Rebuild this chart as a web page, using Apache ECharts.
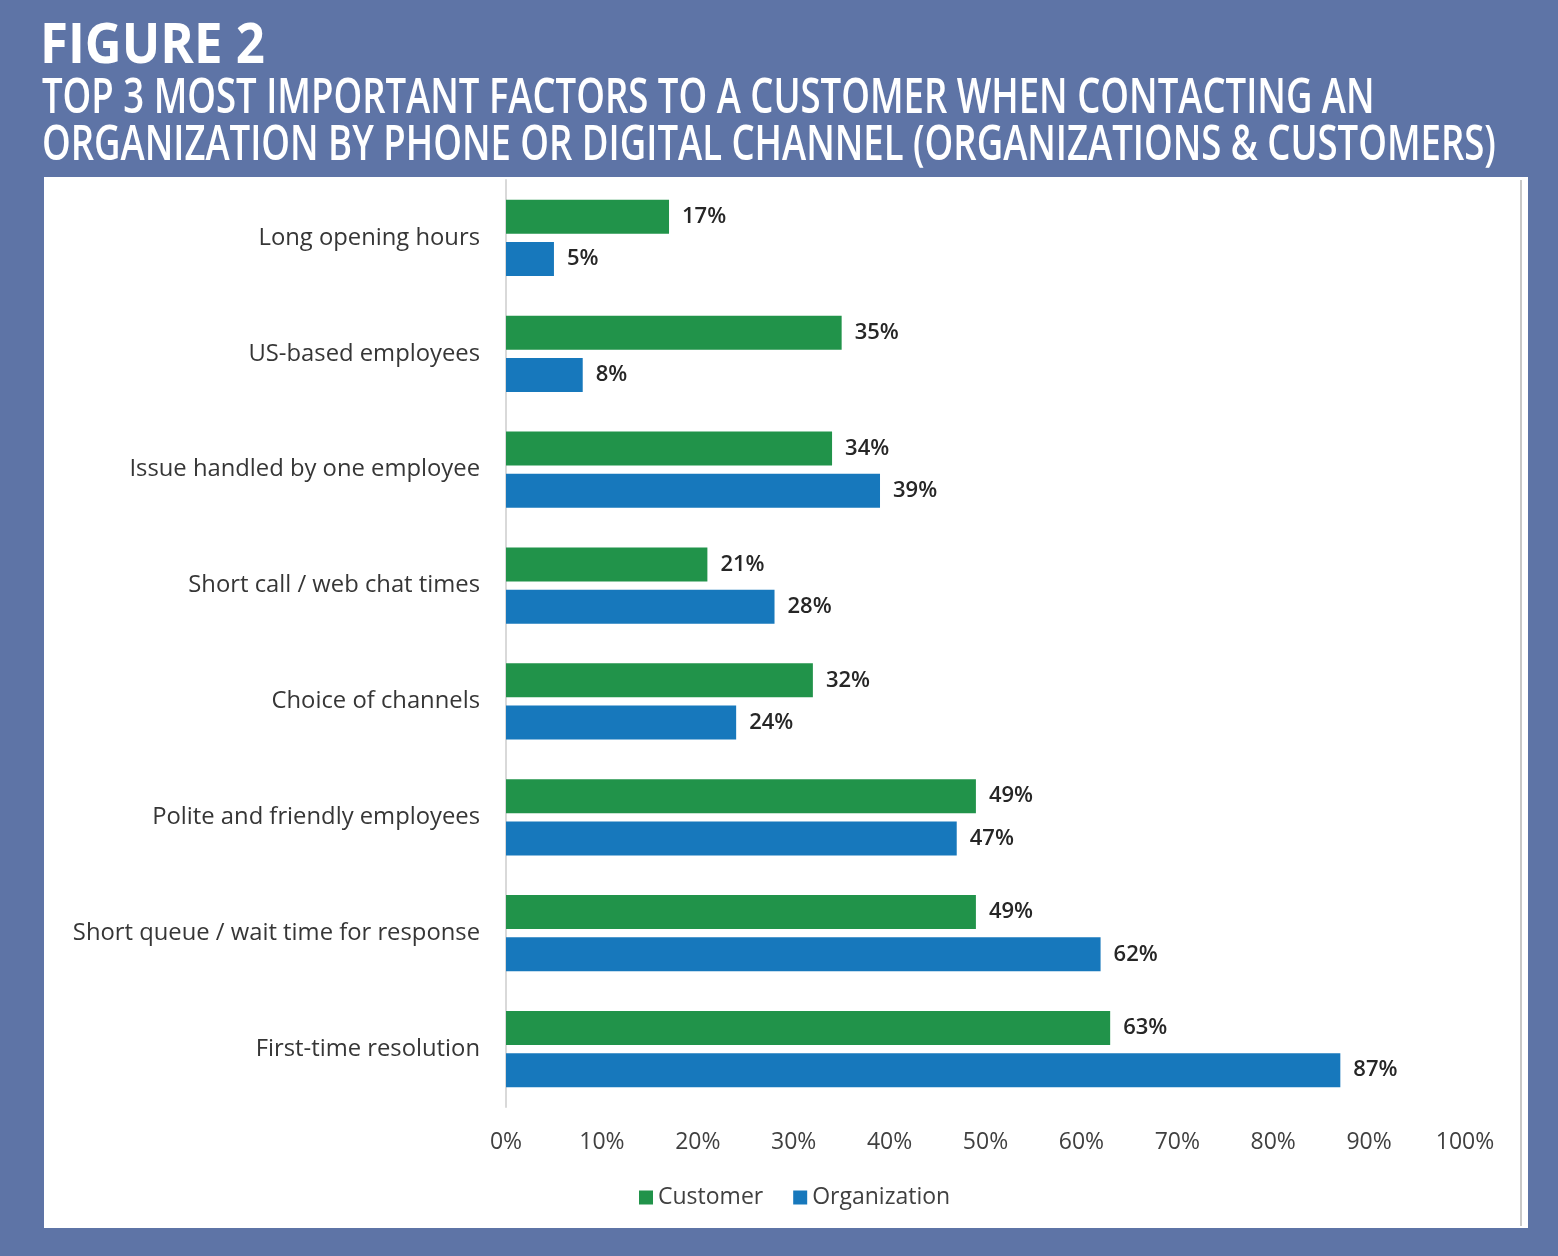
<!DOCTYPE html>
<html lang="en">
<head>
<meta charset="UTF-8">
<title>Figure 2</title>
<style>
  html, body { margin: 0; padding: 0; background: #5e74a6; }
  #chart-box { width: 1558px; height: 1256px; }
</style>
</head>
<body>
<div id="chart-box"></div>
<script src="https://cdn.jsdelivr.net/npm/echarts@6/dist/echarts.min.js"></script>
<script>
var categories = [
    'Long opening hours',
    'US-based employees',
    'Issue handled by one employee',
    'Short call / web chat times',
    'Choice of channels',
    'Polite and friendly employees',
    'Short queue / wait time for response',
    'First-time resolution'
];
var customer = [17, 35, 34, 21, 32, 49, 49, 63];
var organization = [5, 8, 39, 28, 24, 47, 62, 87];
var seriesNames = ['Customer', 'Organization'];

var labelFont = 'Open Sans';
var titleFont = 'Open Sans';

var option = {
    backgroundColor: '#5e74a6',
    animation: false,
    graphic: [
        // white panel behind the chart
        { type: 'rect', left: 44, top: 177, shape: { width: 1484, height: 1051 },
          style: { fill: '#ffffff' }, z: -10 },
        { type: 'rect', left: 1520, top: 180, shape: { width: 2, height: 1046 },
          style: { fill: '#c8c8c8' }, z: -9 },
        { type: 'text', x: 40, y: 47, scaleX: 0.91,
          style: { text: 'FIGURE 2', fill: '#ffffff', font: 'bold 56px ' + titleFont, verticalAlign: 'middle' } },
        { type: 'text', x: 42, y: 99, scaleX: 0.745,
          style: { text: 'TOP 3 MOST IMPORTANT FACTORS TO A CUSTOMER WHEN CONTACTING AN', fill: '#ffffff',
                   font: '600 49px ' + titleFont, verticalAlign: 'middle' } },
        { type: 'text', x: 42, y: 146, scaleX: 0.745,
          style: { text: 'ORGANIZATION BY PHONE OR DIGITAL CHANNEL (ORGANIZATIONS & CUSTOMERS)', fill: '#ffffff',
                   font: '600 49px ' + titleFont, verticalAlign: 'middle' } }
    ],
    legend: {
        data: seriesNames,
        left: 634,
        top: 1181,
        icon: 'rect',
        itemWidth: 14,
        itemHeight: 14,
        itemGap: 30,
        itemTextGap: 6,
        textStyle: { fontFamily: labelFont, fontSize: 23, color: '#404040' }
    },
    grid: { left: 506, right: 93, top: 180, bottom: 149 },
    xAxis: {
        type: 'value',
        min: 0,
        max: 100,
        interval: 10,
        axisLine: { show: false },
        axisTick: { show: false },
        splitLine: { show: false },
        axisLabel: { formatter: '{value}%', fontFamily: labelFont, fontSize: 23, color: '#404040', margin: 24 }
    },
    yAxis: {
        type: 'category',
        inverse: true,
        data: categories,
        axisLine: { show: true, lineStyle: { color: '#d9d9d9', width: 2 } },
        axisTick: { show: false },
        axisLabel: { fontFamily: labelFont, fontSize: 23.8, color: '#363636', margin: 26 }
    },
    series: [
        {
            name: seriesNames[0],
            type: 'bar',
            data: customer,
            barWidth: 34,
            barGap: '24%',
            itemStyle: { color: '#21934a' },
            label: { show: true, position: 'right', distance: 13, formatter: '{c}%',
                     fontFamily: labelFont, fontSize: 22, fontWeight: 600, color: '#262626' }
        },
        {
            name: seriesNames[1],
            type: 'bar',
            data: organization,
            barWidth: 34,
            barGap: '24%',
            itemStyle: { color: '#1778bc' },
            label: { show: true, position: 'right', distance: 13, formatter: '{c}%',
                     fontFamily: labelFont, fontSize: 22, fontWeight: 600, color: '#262626' }
        }
    ]
};

var chart = echarts.init(document.getElementById('chart-box'));
chart.setOption(option);
</script>
</body>
</html>
